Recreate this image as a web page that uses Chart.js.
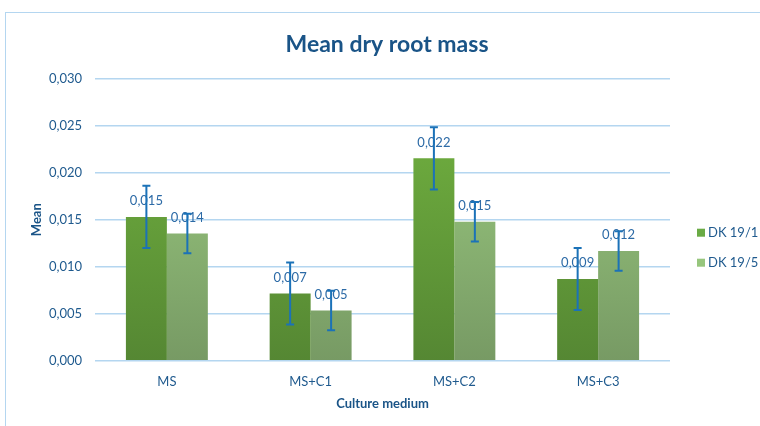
<!DOCTYPE html>
<html lang="en">
<head>
<meta charset="UTF-8">
<title>Mean dry root mass</title>
<script src="https://cdn.jsdelivr.net/npm/chart.js"></script>
<style>
  html, body { margin: 0; padding: 0; background: #fff; }
  #wrap { position: relative; width: 760px; height: 426px; }
  #frame { position: absolute; left: 5px; top: 12px; right: 0; bottom: 0;
           border-top: 1.5px solid #b4d6f0; border-left: 1.5px solid #b4d6f0; }
  canvas { position: absolute; left: 0; top: 0; }
</style>
</head>
<body>
<div id="wrap">
  <div id="frame"></div>
  <canvas id="grafico" width="760" height="426"></canvas>
</div>
<script>
// dados
const categorias = ['MS', 'MS+C1', 'MS+C2', 'MS+C3'];
const series = ['DK 19/1', 'DK 19/5'];
const valores1 = [0.0153, 0.00716, 0.02152, 0.00869];
const valores2 = [0.01354, 0.00535, 0.01479, 0.01167];
const erros1 = [0.0033, 0.0033, 0.0033, 0.0033];
const erros2 = [0.0021, 0.0021, 0.0021, 0.0021];
const ticksY = [0, 0.005, 0.01, 0.015, 0.02, 0.025, 0.03];

const azulTexto = '#1f5a8e';
const azulEscuro = '#1a5487';
const coresLegenda = ['#6aab45', '#97c67d'];

function fmt(v) {
    return v.toFixed(3).replace('.', ',');
}

function gradiente(ctx, topo, base) {
    const area = ctx.chart.chartArea;
    if (!area) return topo;
    const g = ctx.chart.ctx.createLinearGradient(0, area.top, 0, area.bottom);
    g.addColorStop(0, topo);
    g.addColorStop(1, base);
    return g;
}

// barras de erro e rótulos de valor
const pluginErros = {
    id: 'erros',
    afterDatasetsDraw(chart) {
        const c = chart.ctx;
        const y = chart.scales.y;
        const listaErros = [erros1, erros2];
        chart.data.datasets.forEach((ds, i) => {
            const meta = chart.getDatasetMeta(i);
            meta.data.forEach((bar, j) => {
                const v = ds.data[j];
                const e = listaErros[i][j];
                const x = bar.x;
                // rótulo
                c.save();
                c.font = '13px Lato';
                c.fillStyle = '#2c6aa6';
                c.textAlign = 'center';
                c.textBaseline = 'middle';
                c.fillText(fmt(v), x, bar.y - 16);
                c.restore();
                // erro
                const yt = y.getPixelForValue(v + e);
                const yb = y.getPixelForValue(v - e);
                c.save();
                c.strokeStyle = '#1b72b8';
                c.lineWidth = 2;
                c.beginPath();
                c.moveTo(x, yt); c.lineTo(x, yb);
                c.moveTo(x - 4, yt); c.lineTo(x + 4, yt);
                c.moveTo(x - 4, yb); c.lineTo(x + 4, yb);
                c.stroke();
                c.restore();
            });
        });
    }
};

// legenda à direita
const pluginLegenda = {
    id: 'legendaDireita',
    afterDraw(chart) {
        const c = chart.ctx;
        const a = chart.chartArea;
        const meio = (a.top + a.bottom) / 2;
        chart.data.datasets.forEach((ds, i) => {
            const yy = meio + 13 + i * 30;
            const xx = a.right + 27;
            c.save();
            c.fillStyle = coresLegenda[i];
            c.fillRect(xx, yy - 4, 8, 8);
            c.font = '13px Lato';
            c.fillStyle = azulTexto;
            c.textAlign = 'left';
            c.textBaseline = 'middle';
            c.fillText(ds.label, xx + 11, yy);
            c.restore();
        });
    }
};

new Chart(document.getElementById('grafico'), {
    type: 'bar',
    data: {
        labels: categorias,
        datasets: [{
            label: series[0],
            data: valores1,
            backgroundColor: ctx => gradiente(ctx, '#74b541', '#558733'),
            categoryPercentage: 0.57,
            barPercentage: 1
        }, {
            label: series[1],
            data: valores2,
            backgroundColor: ctx => gradiente(ctx, '#9fd083', '#779a64'),
            categoryPercentage: 0.57,
            barPercentage: 1
        }]
    },
    options: {
        responsive: false,
        animation: false,
        layout: { padding: { left: 14, right: 0, top: 0, bottom: 10 } },
        plugins: {
            title: {
                display: true,
                text: 'Mean dry root mass',
                color: azulEscuro,
                font: { family: 'Lato', size: 23, weight: 'bold' },
                padding: { top: 31, bottom: 20 }
            },
            legend: { display: false },
            tooltip: { enabled: false }
        },
        scales: {
            x: {
                grid: { display: false, drawTicks: false },
                border: { display: false },
                ticks: { color: azulTexto, font: { family: 'Lato', size: 13 }, padding: 13 },
                title: {
                    display: true,
                    text: 'Culture medium',
                    color: azulEscuro,
                    font: { family: 'Lato', size: 13, weight: 'bold' },
                    padding: { top: -6, bottom: 4 }
                }
            },
            y: {
                min: 0,
                max: 0.03,
                afterBuildTicks: axis => { axis.ticks = ticksY.map(v => ({ value: v })); },
                afterFit: axis => { axis.width = 81; },
                grid: { color: '#b4d6f0', lineWidth: 1.5, drawTicks: false },
                border: { display: false },
                ticks: {
                    color: azulTexto,
                    font: { family: 'Lato', size: 13 },
                    padding: 13,
                    callback: v => fmt(v)
                },
                title: {
                    display: true,
                    text: 'Mean',
                    color: azulEscuro,
                    font: { family: 'Lato', size: 13, weight: 'bold' },
                    padding: { top: 15, bottom: 0 }
                }
            },
            // eixo vazio que reserva o espaço da legenda
            espaco: {
                type: 'linear',
                position: 'right',
                display: true,
                afterFit: axis => { axis.width = 90; },
                grid: { display: false, drawTicks: false },
                border: { display: false },
                ticks: { display: false }
            }
        }
    },
    plugins: [pluginErros, pluginLegenda]
});
</script>
</body>
</html>
